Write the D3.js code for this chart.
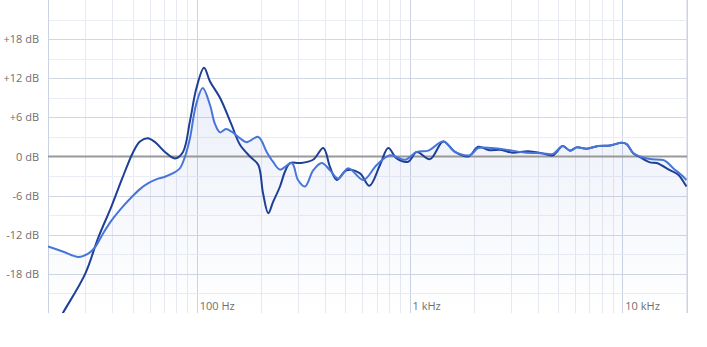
<!DOCTYPE html>
<html lang="en">
	<head>
		<meta charset="utf-8">
		<title>Frequency response</title>
		<script type="text/javascript" src="https://d3js.org/d3.v7.min.js"></script>
		<style type="text/css">
body{
	margin: 0;
	background: #fff;
}
text{
	font-family: "Open Sans", "DejaVu Sans", sans-serif;
	font-size: 11px;
	fill: #6f6f6f;
}
		</style>
	</head>
	<body>
		<script>
//Frequency points (Hz) and levels (dB) for each measured curve
var darkFreq = [20, 23.5, 29.9, 34.4, 39.8, 44.6, 50.3, 54.1, 58.8, 63.7, 70.9, 79.0, 86.2, 92.9, 99.7, 108.2, 115.4, 128.6, 146.0, 159.7, 177.9, 194.7, 204.8, 216.9, 228.2, 246.2, 259.9, 274.4, 305.7, 351.9, 393.3, 422.9, 454.7, 506.7, 585.1, 647.2, 726.4, 794.5, 870.2, 986.5, 1080, 1248, 1441, 1635, 1888, 2104, 2344, 2711, 3020, 3614, 4178, 4722, 5245, 5675, 6102, 6799, 7709, 8750, 9931, 10484, 11259, 12106, 13490, 14502, 16743, 18318, 20000];
var darkDb = [-28, -24, -18, -12.5, -7.6, -3.4, 0.7, 2.3, 2.8, 2.2, 0.7, -0.3, 0.7, 5.4, 10.5, 13.6, 11.5, 9.0, 4.8, 1.8, 0, -1.3, -5.6, -8.7, -7.0, -4.6, -2.3, -1.0, -1.0, -0.5, 1.3, -1.6, -3.6, -2.1, -2.6, -4.5, -1.3, 1.3, -0.3, -0.8, 0.7, -0.4, 2.3, 0.7, 0, 1.5, 1.0, 1.0, 0.6, 0.8, 0.5, 0.2, 1.6, 0.9, 1.4, 1.2, 1.6, 1.7, 2.1, 1.9, 0.5, -0.1, -0.9, -1.0, -2.1, -2.8, -4.6];

var lightFreq = [20, 23.6, 27.8, 30.9, 33.3, 36.3, 39.8, 44.6, 49.5, 54.1, 59.2, 65.8, 70.9, 79.0, 83.4, 88.1, 92.9, 99.2, 106.7, 115.4, 121.8, 128.6, 137.2, 146.0, 159.7, 171.7, 194.7, 213.2, 228.2, 246.2, 279.5, 299.1, 322.7, 353.0, 386.6, 422.9, 462.6, 515.6, 606.3, 701.0, 809.3, 951.9, 1080, 1225, 1441, 1635, 1923, 2104, 2432, 2912, 3487, 4178, 4722, 5245, 5675, 6102, 6799, 7709, 8750, 9931, 10484, 11259, 12106, 13490, 15740, 17350, 19340, 20000];
var lightDb = [-13.8, -14.6, -15.4, -14.9, -13.9, -11.8, -9.8, -7.8, -6.2, -5.0, -4.1, -3.4, -3.1, -2.4, -1.8, 0, 2.8, 7.9, 10.5, 7.9, 5.0, 3.7, 4.2, 3.8, 2.8, 2.2, 3.0, 0.7, -0.8, -2.0, -1.0, -3.6, -4.6, -2.1, -1.0, -2.1, -3.4, -1.8, -3.6, -1.3, 0.2, -0.5, 0.7, 0.9, 2.3, 0.7, 0.2, 1.3, 1.3, 1.0, 0.6, 0.5, 0.4, 1.6, 0.9, 1.4, 1.2, 1.6, 1.7, 2.1, 1.9, 0.5, 0.0, -0.4, -0.6, -1.8, -3.1, -3.6];

//Grid and tick values
var dbTicks = [-18, -12, -6, 0, 6, 12, 18];
var dbMinor = [-21, -15, -9, -3, 3, 9, 15, 21];
var freqLabels = [100, 1000, 10000];
var freqLabelText = ["100 Hz", "1 kHz", "10 kHz"];

//Width and height
var w = 707;
var h = 347;

var x = d3.scaleLog()
			.domain([20, 20000])
			.range([48, 686.4]);

var y = d3.scaleLinear()
			.domain([-24, 24])
			.range([313, 0]);

var svg = d3.select("body")
			.append("svg")
			.attr("width", w)
			.attr("height", h);

//Gradient for the area under the curve
var grad = svg.append("defs")
			.append("linearGradient")
			.attr("id", "fillGrad")
			.attr("gradientUnits", "userSpaceOnUse")
			.attr("x1", 0).attr("y1", 0)
			.attr("x2", 0).attr("y2", 313);
grad.append("stop").attr("offset", "0%").attr("stop-color", "#3f63c8").attr("stop-opacity", 0.14);
grad.append("stop").attr("offset", "100%").attr("stop-color", "#3f63c8").attr("stop-opacity", 0.0);

svg.append("clipPath")
	.attr("id", "plotClip")
	.append("rect")
	.attr("x", 48).attr("y", 0)
	.attr("width", 640).attr("height", 313);

//Vertical grid: every 1-9 step of each decade
var vTicks = [];
for (var d = 10; d <= 10000; d *= 10) {
	for (var k = 1; k < 10; k++) {
		var f = d * k;
		if (f > 20 && f <= 20000) vTicks.push(f);
	}
}

var grid = svg.append("g");

grid.selectAll("line.vminor")
	.data(vTicks)
	.enter()
	.append("line")
	.attr("x1", function(f) { return Math.round(x(f)) + 0.5; })
	.attr("x2", function(f) { return Math.round(x(f)) + 0.5; })
	.attr("y1", 0)
	.attr("y2", 313)
	.attr("stroke", function(f) { return freqLabels.indexOf(f) >= 0 ? "#ccd3e3" : "#e6e9f1"; })
	.attr("stroke-width", 1);

grid.selectAll("line.hminor")
	.data(dbMinor)
	.enter()
	.append("line")
	.attr("x1", 48)
	.attr("x2", 687)
	.attr("y1", function(v) { return Math.round(y(v)) + 0.5; })
	.attr("y2", function(v) { return Math.round(y(v)) + 0.5; })
	.attr("stroke", "#eaedf3");

grid.selectAll("line.hmajor")
	.data(dbTicks.filter(function(v) { return v != 0; }))
	.enter()
	.append("line")
	.attr("x1", 48)
	.attr("x2", 687)
	.attr("y1", function(v) { return Math.round(y(v)) + 0.5; })
	.attr("y2", function(v) { return Math.round(y(v)) + 0.5; })
	.attr("stroke", "#d2d7e4");

//Left and right borders
grid.append("line")
	.attr("x1", 48.5).attr("x2", 48.5)
	.attr("y1", 0).attr("y2", 313)
	.attr("stroke", "#ccd2e2");
grid.append("line")
	.attr("x1", 687.5).attr("x2", 687.5)
	.attr("y1", 0).attr("y2", 313)
	.attr("stroke", "#ccd2e2");

//Build points for the line generators
var darkData = darkFreq.map(function(f, i) { return {f: f, v: darkDb[i]}; });
var lightData = lightFreq.map(function(f, i) { return {f: f, v: lightDb[i]}; });

var line = d3.line()
			.x(function(d) { return x(d.f); })
			.y(function(d) { return y(d.v); })
			.curve(d3.curveCatmullRom.alpha(0.5));

var area = d3.area()
			.x(function(d) { return x(d.f); })
			.y0(313)
			.y1(function(d) { return y(d.v); })
			.curve(d3.curveCatmullRom.alpha(0.5));

var plot = svg.append("g").attr("clip-path", "url(#plotClip)");

plot.append("path")
	.datum(lightData)
	.attr("d", area)
	.attr("fill", "url(#fillGrad)");

//Zero line
plot.append("line")
	.attr("x1", 48).attr("x2", 687)
	.attr("y1", y(0)).attr("y2", y(0))
	.attr("stroke", "#999999")
	.attr("stroke-width", 2);

plot.append("path")
	.datum(darkData)
	.attr("d", line)
	.attr("fill", "none")
	.attr("stroke", "#1d3f96")
	.attr("stroke-width", 2);

plot.append("path")
	.datum(lightData)
	.attr("d", line)
	.attr("fill", "none")
	.attr("stroke", "#4775d9")
	.attr("stroke-width", 2);

//Y labels
svg.selectAll("text.ylab")
	.data(dbTicks)
	.enter()
	.append("text")
	.attr("x", 39)
	.attr("y", function(v) { return y(v) + 4; })
	.attr("text-anchor", "end")
	.text(function(v) { return (v > 0 ? "+" : "") + v + " dB"; });

//Frequency labels
svg.selectAll("text.xlab")
	.data(freqLabels)
	.enter()
	.append("text")
	.attr("x", function(f) { return x(f) + 3; })
	.attr("y", 310)
	.text(function(f, i) { return freqLabelText[i]; });
		</script>
	</body>
</html>
